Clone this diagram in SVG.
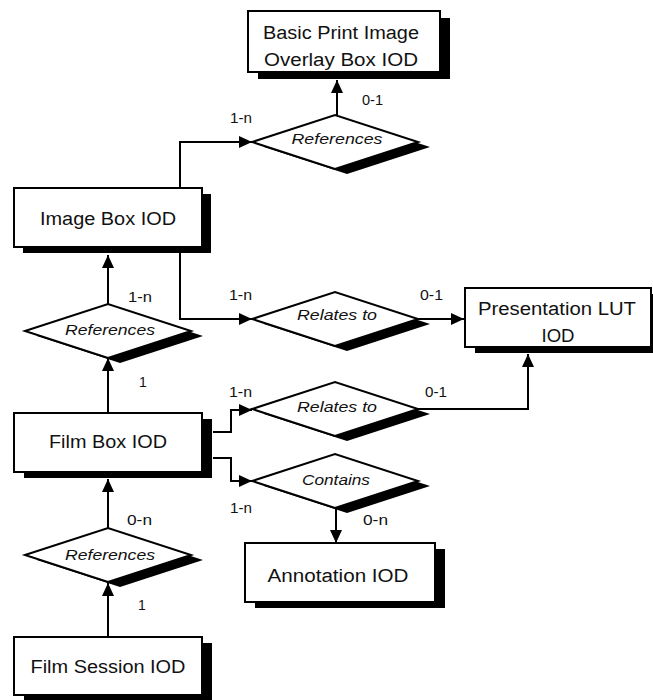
<svg xmlns="http://www.w3.org/2000/svg" width="653" height="700" viewBox="0 0 653 700">
<defs>
<style>
.box{fill:#fff;stroke:#000;stroke-width:2}
.sh{fill:#000}
.dia{fill:#fff;stroke:#000;stroke-width:2;stroke-linejoin:miter}
.bt{font-family:"Liberation Sans",Arial,sans-serif;font-size:18px;fill:#111;text-anchor:middle}
.dt{font-family:"Liberation Sans",Arial,sans-serif;font-size:14px;font-style:italic;fill:#111;text-anchor:middle}
.ct{font-family:"Liberation Sans",Arial,sans-serif;font-size:14px;fill:#111}
.ln{fill:none;stroke:#000;stroke-width:2}
</style>
<marker id="ah" markerUnits="userSpaceOnUse" markerWidth="14" markerHeight="12" refX="13" refY="6" orient="auto">
<path d="M0,0 L13,6 L0,12 Z" fill="#000"/>
</marker>
<polygon id="dshape" points="-83,0 0,-27 83,0 0,27"/>
</defs>

<g id="connectors">
<path class="ln" d="M180,188 V142 H252" marker-end="url(#ah)"/>
<path class="ln" d="M337,115 V80" marker-end="url(#ah)"/>
<path class="ln" d="M108,304 V255" marker-end="url(#ah)"/>
<path class="ln" d="M108,413 V358" marker-end="url(#ah)"/>
<path class="ln" d="M180,247 V319 H252" marker-end="url(#ah)"/>
<path class="ln" d="M418,319 H464" marker-end="url(#ah)"/>
<path class="ln" d="M213,432 H231 V410 H252" marker-end="url(#ah)"/>
<path class="ln" d="M213,458 H231 V481 H252" marker-end="url(#ah)"/>
<path class="ln" d="M418,409 H528 V354" marker-end="url(#ah)"/>
<path class="ln" d="M336,508 V543" marker-end="url(#ah)"/>
<path class="ln" d="M108,637 V583" marker-end="url(#ah)"/>
<path class="ln" d="M108,528 V479" marker-end="url(#ah)"/>
</g>

<g id="basic-print-image-overlay-box">
<rect class="sh" x="258" y="18" width="192" height="61"/>
<rect class="box" x="248" y="11" width="192" height="61"/>
<text class="bt" x="341" y="39" textLength="156" lengthAdjust="spacingAndGlyphs">Basic Print Image</text>
<text class="bt" x="341" y="66" textLength="154" lengthAdjust="spacingAndGlyphs">Overlay Box IOD</text>
</g>

<g id="image-box">
<rect class="sh" x="23" y="194" width="188" height="59"/>
<rect class="box" x="14" y="188" width="188" height="59"/>
<text class="bt" x="108" y="225" textLength="136" lengthAdjust="spacingAndGlyphs">Image Box IOD</text>
</g>

<g id="presentation-lut">
<rect class="sh" x="475" y="294" width="186" height="59"/>
<rect class="box" x="465" y="288" width="186" height="59"/>
<text class="bt" x="557" y="315" textLength="158" lengthAdjust="spacingAndGlyphs">Presentation LUT</text>
<text class="bt" x="558" y="342" textLength="33" lengthAdjust="spacingAndGlyphs">IOD</text>
</g>

<g id="film-box">
<rect class="sh" x="24" y="419" width="188" height="59"/>
<rect class="box" x="14" y="413" width="188" height="59"/>
<text class="bt" x="108" y="448" textLength="118" lengthAdjust="spacingAndGlyphs">Film Box IOD</text>
</g>

<g id="annotation">
<rect class="sh" x="255" y="549" width="190" height="59"/>
<rect class="box" x="245" y="543" width="190" height="59"/>
<text class="bt" x="338" y="582" textLength="141" lengthAdjust="spacingAndGlyphs">Annotation IOD</text>
</g>

<g id="film-session">
<rect class="sh" x="24" y="643" width="188" height="58"/>
<rect class="box" x="14" y="637" width="188" height="58"/>
<text class="bt" x="108" y="673" textLength="155" lengthAdjust="spacingAndGlyphs">Film Session IOD</text>
</g>

<g id="rel-references-overlay">
<use href="#dshape" class="sh" x="347" y="147"/>
<use href="#dshape" class="dia" x="335" y="142"/>
<text class="dt" x="337" y="144" textLength="91" lengthAdjust="spacingAndGlyphs">References</text>
</g>

<g id="rel-references-image">
<use href="#dshape" class="sh" x="120" y="336"/>
<use href="#dshape" class="dia" x="108" y="331"/>
<text class="dt" x="110" y="335" textLength="90" lengthAdjust="spacingAndGlyphs">References</text>
</g>

<g id="rel-relates-image">
<use href="#dshape" class="sh" x="347" y="324"/>
<use href="#dshape" class="dia" x="335" y="319"/>
<text class="dt" x="337" y="320" textLength="80" lengthAdjust="spacingAndGlyphs">Relates to</text>
</g>

<g id="rel-relates-film">
<use href="#dshape" class="sh" x="347" y="414"/>
<use href="#dshape" class="dia" x="335" y="409"/>
<text class="dt" x="337" y="412" textLength="80" lengthAdjust="spacingAndGlyphs">Relates to</text>
</g>

<g id="rel-contains">
<use href="#dshape" class="sh" x="347" y="486"/>
<use href="#dshape" class="dia" x="335" y="481"/>
<text class="dt" x="336" y="485" textLength="68" lengthAdjust="spacingAndGlyphs">Contains</text>
</g>

<g id="rel-references-film">
<use href="#dshape" class="sh" x="120" y="560"/>
<use href="#dshape" class="dia" x="108" y="555"/>
<text class="dt" x="110" y="560" textLength="90" lengthAdjust="spacingAndGlyphs">References</text>
</g>

<g id="cardinalities">
<text class="ct" x="362" y="105" textLength="21" lengthAdjust="spacingAndGlyphs">0-1</text>
<text class="ct" x="230" y="123" textLength="22" lengthAdjust="spacingAndGlyphs">1-n</text>
<text class="ct" x="128" y="302" textLength="24" lengthAdjust="spacingAndGlyphs">1-n</text>
<text class="ct" x="139" y="387">1</text>
<text class="ct" x="229" y="300" textLength="23" lengthAdjust="spacingAndGlyphs">1-n</text>
<text class="ct" x="420" y="300" textLength="23" lengthAdjust="spacingAndGlyphs">0-1</text>
<text class="ct" x="229" y="397" textLength="23" lengthAdjust="spacingAndGlyphs">1-n</text>
<text class="ct" x="425" y="397" textLength="22" lengthAdjust="spacingAndGlyphs">0-1</text>
<text class="ct" x="230" y="513" textLength="22" lengthAdjust="spacingAndGlyphs">1-n</text>
<text class="ct" x="363" y="525" textLength="25" lengthAdjust="spacingAndGlyphs">0-n</text>
<text class="ct" x="127" y="525" textLength="25" lengthAdjust="spacingAndGlyphs">0-n</text>
<text class="ct" x="138" y="610">1</text>
</g>
</svg>
